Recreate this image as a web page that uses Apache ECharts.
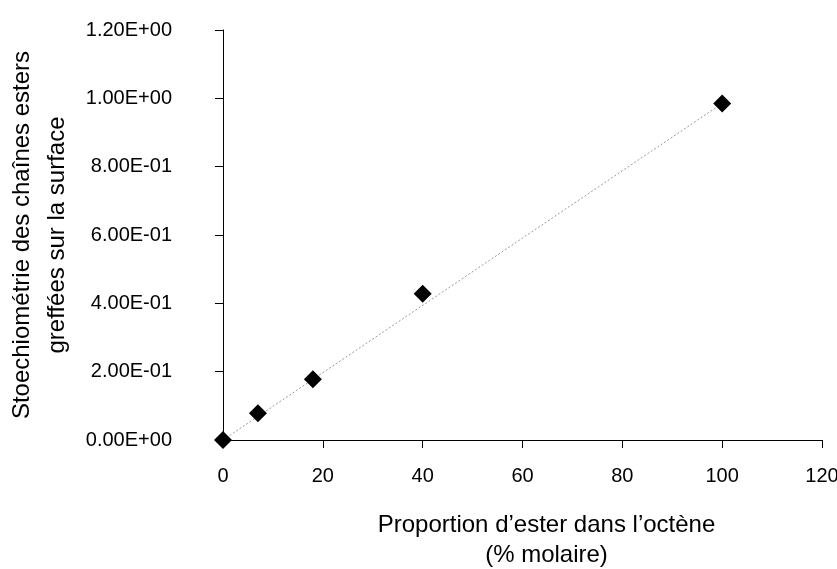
<!DOCTYPE html>
<html>
<head>
<meta charset="utf-8">
<script src="https://cdn.jsdelivr.net/npm/echarts@6/dist/echarts.min.js"></script>
<style>
  html, body { margin: 0; padding: 0; background: #fff; }
  #chart { width: 837px; height: 569px; }
</style>
</head>
<body>
<div id="chart"></div>
<script>
// Measured points: ester fraction in octene (mol %) vs grafted ester chain stoichiometry
const esterPercent = [0, 7, 18, 40, 100];
const stoichiometry = [0.0, 0.078, 0.178, 0.428, 0.985];

// Linear trendline endpoints
const trendX = [0, 100];
const trendY = [0.0, 0.985];

// Axis tick labels
const xTickValues = [0, 20, 40, 60, 80, 100, 120];
const yTickLabels = ['0.00E+00', '2.00E-01', '4.00E-01', '6.00E-01', '8.00E-01', '1.00E+00', '1.20E+00'];

const xTitle = 'Proportion d\u2019ester dans l\u2019oct\u00e8ne\n(% molaire)';
const yTitle = 'Stoechiom\u00e9trie des cha\u00eenes esters\ngreff\u00e9es sur la surface';

const FONT = '"Liberation Sans", Arial, sans-serif';
const INK = '#000';

const chart = echarts.init(document.getElementById('chart'), null, { renderer: 'canvas' });

chart.setOption({
  animation: false,
  backgroundColor: '#ffffff',
  grid: {
    left: 223, right: 15, top: 30, bottom: 129,
    containLabel: false,
    outerBoundsMode: 'none'
  },
  xAxis: {
    type: 'value',
    min: 0,
    max: 120,
    interval: 20,
    name: xTitle,
    nameLocation: 'middle',
    nameGap: 70,
    nameTextStyle: {
      fontFamily: FONT, fontSize: 24, color: INK, lineHeight: 30,
      padding: [0, 0, 0, 48]
    },
    axisLine: { show: true, lineStyle: { color: INK, width: 1 } },
    axisTick: { show: true, inside: false, length: 8, lineStyle: { color: INK, width: 1 } },
    splitLine: { show: false },
    axisLabel: {
      margin: 26,
      fontFamily: FONT, fontSize: 20, color: INK,
      formatter: v => xTickValues.includes(v) ? String(v) : ''
    }
  },
  yAxis: {
    type: 'value',
    min: 0,
    max: 1.2,
    interval: 0.2,
    name: yTitle,
    nameLocation: 'middle',
    nameRotate: 90,
    nameGap: 147,
    nameTextStyle: {
      fontFamily: FONT, fontSize: 24, color: INK, lineHeight: 35
    },
    axisLine: { show: true, lineStyle: { color: INK, width: 1 } },
    axisTick: { show: true, inside: false, length: 8, lineStyle: { color: INK, width: 1 } },
    splitLine: { show: false },
    axisLabel: {
      margin: 51,
      fontFamily: FONT, fontSize: 20, color: INK,
      formatter: v => yTickLabels[Math.round(v / 0.2)] || ''
    }
  },
  series: [
    {
      type: 'line',
      data: trendX.map((x, i) => [x, trendY[i]]),
      symbol: 'none',
      lineStyle: { color: '#9a9a9a', width: 1, type: [2, 2] },
      z: 1,
      silent: true
    },
    {
      type: 'scatter',
      data: esterPercent.map((x, i) => [x, stoichiometry[i]]),
      symbol: 'diamond',
      symbolSize: 18,
      itemStyle: { color: '#000', opacity: 1 },
      z: 3
    }
  ]
});
</script>
</body>
</html>
